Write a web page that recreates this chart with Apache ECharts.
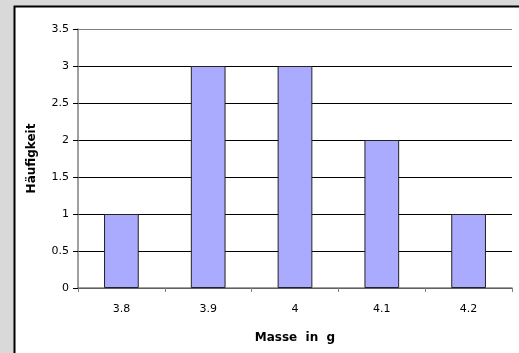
<!DOCTYPE html>
<html><head><meta charset="utf-8">
<script src="https://cdn.jsdelivr.net/npm/echarts@6/dist/echarts.min.js"></script>
<style>html,body{margin:0;padding:0;background:#d9d9d9}#c{width:519px;height:353px}</style>
</head><body><div id="c"></div>
<script>
const categories = ['3.8', '3.9', '4', '4.1', '4.2'];
const counts = [1, 3, 3, 2, 1];
const xTitle = 'Masse  in  g';
const yTitle = 'Häufigkeit';

const chart = echarts.init(document.getElementById('c'), null, {renderer: 'canvas'});
const font = 'DejaVu Sans, Verdana, sans-serif';
chart.setOption({
  backgroundColor: '#d9d9d9',
  animation: false,
  graphic: [{
    type: 'rect', z: -10, silent: true,
    shape: {x: 14.5, y: 6.5, width: 520, height: 360},
    style: {fill: '#ffffff', stroke: '#000000', lineWidth: 2}
  }],
  grid: {left: 78, top: 29, right: 7, bottom: 65},
  xAxis: {
    type: 'category', data: categories, boundaryGap: true,
    name: xTitle, nameLocation: 'middle', nameGap: 44,
    nameTextStyle: {fontFamily: font, fontWeight: 'bold', fontSize: 12, color: '#000'},
    axisLine: {lineStyle: {color: '#808080', width: 1.5}},
    axisTick: {show: true, alignWithLabel: false, length: 4, lineStyle: {color: '#808080'}},
    axisLabel: {fontFamily: font, fontSize: 11, color: '#000', margin: 16}
  },
  yAxis: {
    type: 'value', min: 0, max: 3.5, interval: 0.5,
    name: yTitle, nameLocation: 'middle', nameGap: 40,
    nameTextStyle: {fontFamily: font, fontWeight: 'bold', fontSize: 12, color: '#000'},
    axisLine: {show: true, lineStyle: {color: '#808080', width: 1.5}},
    axisTick: {show: true, length: 5, lineStyle: {color: '#000'}},
    axisLabel: {fontFamily: font, fontSize: 11, color: '#000', margin: 9},
    splitLine: {show: true, lineStyle: {color: ['#000','#000','#000','#000','#000','#000','#000','#808080'], width: 1}}
  },
  series: [{
    type: 'bar', data: counts, barWidth: '40%',
    itemStyle: {color: '#aaaaff', borderColor: '#222222', borderWidth: 1}
  }]
});
</script></body></html>
